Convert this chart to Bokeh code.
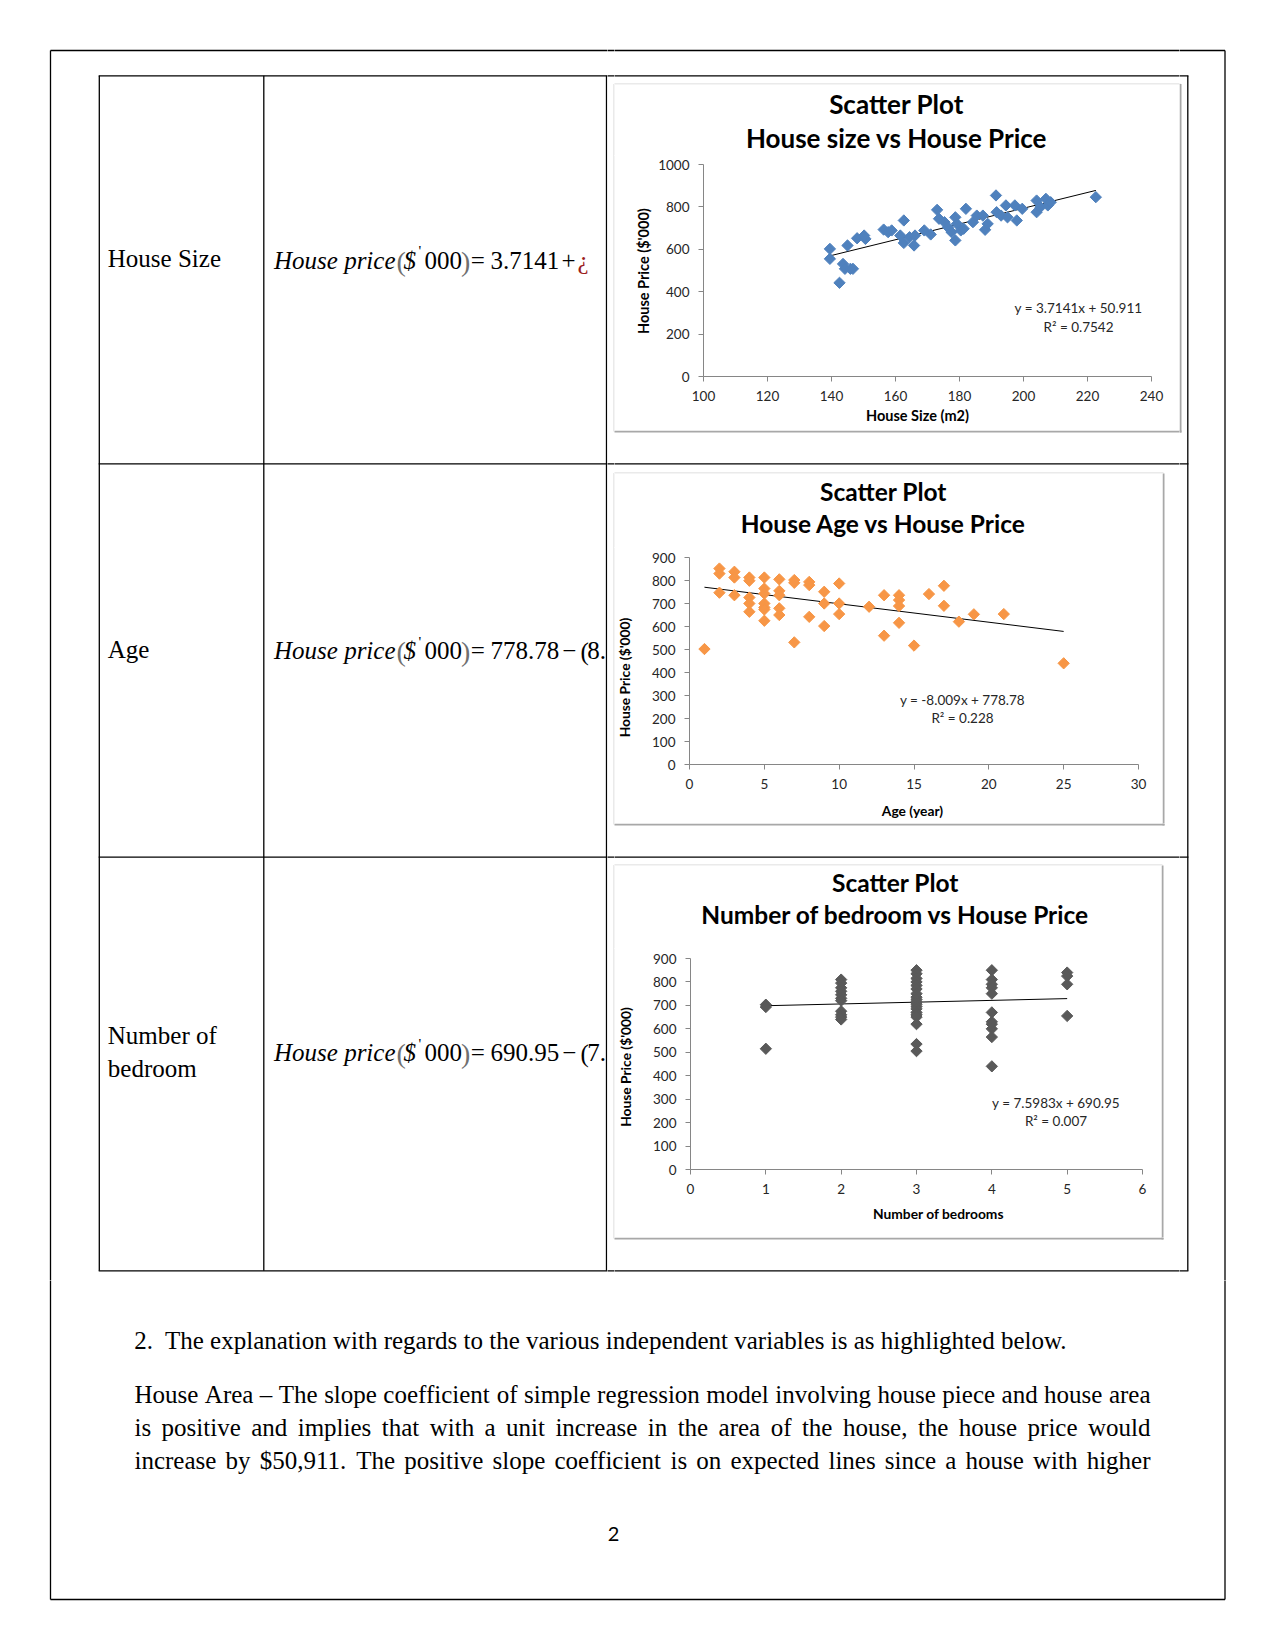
import numpy as np
from bokeh.plotting import figure
from bokeh.layouts import row, column
from bokeh.models import Range1d, FixedTicker, Label
from bokeh.core.properties import value
from bokeh.embed import file_html
from bokeh.resources import INLINE

# ------------------------------------------------------------------ data
house_size = [139.5, 139.5, 142.5, 143.6, 144.2, 145.9, 145.0, 146.7, 148.0, 150.6,
              150.2, 156.3, 157.7, 158.8, 162.6, 161.5, 162.6, 164.4, 165.8, 166.1,
              169.0, 171.0, 173.0, 173.6, 175.3, 176.4, 177.5, 178.7, 178.7, 179.2,
              180.4, 182.0, 181.3, 184.2, 185.4, 187.3, 188.0, 188.8, 191.4, 191.6,
              193.0, 194.5, 195.0, 197.3, 197.9, 199.6, 204.1, 204.1, 205.3, 207.0,
              207.6, 208.5, 222.6]
size_price = [602, 555, 442, 531, 508, 508, 618, 508, 652, 649,
              665, 693, 681, 689, 736, 665, 630, 657, 618, 665,
              689, 670, 786, 744, 728, 704, 681, 751, 642, 720,
              689, 791, 697, 728, 759, 759, 692, 720, 854, 775,
              759, 807, 751, 807, 736, 791, 830, 775, 799, 838,
              807, 822, 846]

house_age = [1, 2, 2, 2, 3, 3, 3, 4, 4, 4, 4, 4, 5, 5, 5, 5, 5, 5, 5,
             6, 6, 6, 6, 6, 7, 7, 7, 8, 8, 8, 9, 9, 9, 10, 10, 10, 12,
             13, 13, 14, 14, 14, 14, 15, 16, 17, 17, 18, 19, 21, 25]
age_price = [502, 852, 830, 747, 838, 813, 736, 813, 799, 726, 700, 664,
             813, 765, 743, 700, 683, 674, 625, 805, 755, 736, 679, 650,
             802, 790, 531, 794, 780, 642, 751, 700, 602, 787, 700, 654,
             686, 736, 560, 736, 715, 689, 616, 517, 741, 777, 690, 621,
             653, 654, 440]

bedrooms = [1, 1, 1,
            2, 2, 2, 2, 2, 2, 2, 2, 2, 2, 2,
            3, 3, 3, 3, 3, 3, 3, 3, 3, 3, 3, 3, 3, 3, 3, 3, 3, 3, 3,
            4, 4, 4, 4, 4, 4, 4, 4, 4, 4, 4,
            5, 5, 5, 5]
bedroom_price = [703, 693, 515,
                 810, 795, 775, 760, 745, 730, 720, 675, 660, 650, 640,
                 850, 835, 815, 800, 785, 770, 750, 735, 725, 715, 705, 695, 685, 670, 660, 650, 620, 535, 505,
                 850, 810, 790, 775, 750, 670, 630, 620, 600, 565, 440,
                 840, 825, 790, 655]

size_fit = [3.7141, 50.911]
age_fit = [-8.009, 778.78]
bedroom_fit = [7.5983, 690.95]
fit_texts = [["y = 3.7141x + 50.911", "R\u00b2 = 0.7542"],
             ["y = -8.009x + 778.78", "R\u00b2 = 0.228"],
             ["y = 7.5983x + 690.95", "R\u00b2 = 0.007"]]

size_xticks = [100, 120, 140, 160, 180, 200, 220, 240]
size_yticks = [0, 200, 400, 600, 800, 1000]
age_xticks = [0, 5, 10, 15, 20, 25, 30]
bed_xticks = [0, 1, 2, 3, 4, 5, 6]
price_ticks_900 = [0, 100, 200, 300, 400, 500, 600, 700, 800, 900]

chart_title_1 = "Scatter Plot"
chart_titles = ["House size vs House Price", "House Age vs House Price",
                "Number of bedroom vs House Price"]
x_titles = ["House Size (m2)", "Age (year)", "Number of bedrooms"]
y_title = "House Price ($'000)"

row_labels = [["House Size"], ["Age"], ["Number of", "bedroom"]]
eq_heads = ["3.7141", "778.78", "690.95"]
eq_tails = [["+", "\u00bf"], ["\u2212", "(", "8."], ["\u2212", "(", "7."]]

intro_num = "2."
intro_text = "The explanation with regards to the various independent variables is as highlighted below."
para_lines = [
    "House Area \u2013 The slope coefficient of simple regression model involving house piece and house area",
    "is positive and implies that with a unit increase in the area of the house, the house price would",
    "increase by $50,911. The positive slope coefficient is on expected lines since a house with higher",
]
page_number = "2"

# ------------------------------------------------------------------ helpers
SERIF = "Liberation Serif"
SANS = "Lato"
TW = {}
for ch, w in zip("abcdefghijklmnopqrstuvwxyz",
                 [444, 500, 444, 500, 444, 333, 500, 500, 278, 278, 500, 278, 778,
                  500, 500, 500, 500, 333, 389, 278, 500, 500, 722, 500, 500, 444]):
    TW[ch] = w
for ch, w in zip("ABCDEFGHIJKLMNOPQRSTUVWXYZ",
                 [722, 667, 667, 722, 611, 556, 722, 722, 333, 389, 722, 611, 889,
                  722, 722, 556, 722, 667, 556, 611, 722, 722, 944, 722, 722, 611]):
    TW[ch] = w
for ch in "0123456789$":
    TW[ch] = 500
TW.update({" ": 250, ".": 250, ",": 250, "\u2013": 500, "-": 333, "(": 333, ")": 333})


def text_width(s, px):
    return sum(TW.get(c, 500) for c in s) * px / 1000.0


TEXTS = []


def add_text(x, y, text, font=SERIF, size=25, style="normal", color="black",
             align="left", angle=0.0):
    TEXTS.append(dict(x=x, y=y, text=text, font=font, size=size, style=style,
                      color=color, align=align, angle=angle))


# left column labels (y = visual centre of the line)
label_y = [[258.0], [648.5], [1035.0, 1067.5]]
for lines, ys in zip(row_labels, label_y):
    for t, yy in zip(lines, ys):
        add_text(107.3, yy, t)

# equations
eq_y = [259.5, 650.0, 1052.0]
for i, yc in enumerate(eq_y):
    add_text(273.5, yc, "House price", style="italic")
    add_text(396.0, yc + 1, "(", size=28, color="#707070")
    add_text(403.0, yc, "$", style="italic")
    add_text(418.0, yc - 9, "'", size=15)
    add_text(424.0, yc, "000")
    add_text(460.5, yc + 1, ")", size=28, color="#707070")
    add_text(470.2, yc, "=")
    add_text(490.0, yc, eq_heads[i])
    tail = eq_tails[i]
    if i == 0:
        add_text(561.0, yc, tail[0])
        add_text(577.0, yc, tail[1], color="#9b1c1c")
    else:
        add_text(561.7, yc, tail[0])
        add_text(580.0, yc + 1, tail[1])
        add_text(586.7, yc, tail[2])

# chart titles and axis titles (Excel chart areas)
CH = [
    dict(box=(614, 84, 1179, 430), frame=(703, 1151, 164, 376), tsplit=155, ysplit=655, xsplit=407,
         title=(896, 103, 137.3), tsize=26, asize=14.5, ytitle=(643, 270.6), xtitle=(917, 414.5)),
    dict(box=(614, 473, 1162, 823), frame=(689, 1138, 557, 764), tsplit=547, ysplit=640, xsplit=795,
         title=(883, 490.7, 523), tsize=24.5, asize=13.8, ytitle=(624.4, 677), xtitle=(912, 809.5)),
    dict(box=(614, 865, 1161, 1237), frame=(690, 1142, 958, 1169), tsplit=948, ysplit=640, xsplit=1200,
         title=(895, 882, 914), tsize=24.5, asize=13.8, ytitle=(624.8, 1066.5), xtitle=(938, 1212.5)),
]
for k, c in enumerate(CH):
    cx, y1, y2 = c["title"]
    add_text(cx, y1, chart_title_1, font=SANS, size=c["tsize"], style="bold", align="center")
    add_text(cx, y2, chart_titles[k], font=SANS, size=c["tsize"], style="bold", align="center")
    add_text(c["ytitle"][0], c["ytitle"][1], y_title, font=SANS, size=c["asize"], style="bold",
             align="center", angle=np.pi / 2)
    add_text(c["xtitle"][0], c["xtitle"][1], x_titles[k], font=SANS, size=c["asize"], style="bold",
             align="center")

# text below the table
add_text(133.7, 1340.0, intro_num)
add_text(164.5, 1340.0, intro_text)
L0, L1 = 134.0, 1150.0
for k, line in enumerate(para_lines):
    words = line.split(" ")
    total = sum(text_width(w, 25) for w in words)
    gap = (L1 - L0 - total) / (len(words) - 1)
    x = L0
    for w in words:
        add_text(x, 1393.7 + 33.3 * k, w)
        x += text_width(w, 25) + gap
add_text(613.0, 1533.0, page_number, font=SANS, size=20, align="center")

# lines of the page and of the table
BLACK = [
    (50, 50, 1224.5, 50), (1224.5, 50, 1224.5, 1599), (50, 1599, 1224.5, 1599), (50, 50, 50, 1599),
    (98.2, 75.3, 1187.9, 75.3), (98.2, 463.3, 1187.9, 463.3), (98.2, 856.7, 1187.9, 856.7),
    (98.2, 1270.3, 1187.9, 1270.3),
    (98.8, 75.3, 98.8, 1270.3), (263.3, 75.3, 263.3, 1270.3), (606.0, 75.3, 606.0, 1270.3),
    (1187.3, 75.3, 1187.3, 1270.3),
]
LIGHT, DARK = [], []
for c in CH:
    (x0, y0, x1, y1) = c["box"]
    LIGHT.append((x0 - 0.5, y0 - 0.5, x1 + 1, y0 - 0.5))
    LIGHT.append((x0 - 0.5, y0 - 0.5, x0 - 0.5, y1 + 1))
    DARK.append((x0 - 0.5, y1 + 1, x1 + 2, y1 + 1))
    DARK.append((x1 + 1, y0 - 0.5, x1 + 1, y1 + 2))


def segs(p, lst, color, width):
    p.segment(x0=[s[0] for s in lst], y0=[s[1] for s in lst], x1=[s[2] for s in lst],
              y1=[s[3] for s in lst], line_color=color, line_width=width)


def deco(x0, x1, y0, y1):
    p = figure(width=x1 - x0, height=y1 - y0, x_range=Range1d(x0, x1), y_range=Range1d(y1, y0),
               x_axis_location=None, y_axis_location=None, output_backend="svg",
               toolbar_location=None, tools="", min_border=0, outline_line_color=None,
               background_fill_color="white", border_fill_color="white")
    p.grid.visible = False
    for t in TEXTS:
        if x0 <= t["x"] < x1 and y0 <= t["y"] < y1:
            p.text(x=[t["x"]], y=[t["y"]], text=[t["text"]], angle=t["angle"],
                   text_font=value(t["font"]),
                   text_font_size=value("%gpx" % t["size"]), text_font_style=t["style"],
                   text_color=t["color"], text_align=t["align"], text_baseline="alphabetic")
    segs(p, LIGHT, "#d4d4d4", 1)
    segs(p, DARK, "#a8a8a8", 2)
    segs(p, BLACK, "black", 1.3)
    return p


def chart(k, xs, ys, fit, color, xr, yr, xticks, yticks, eq_pos):
    c = CH[k]
    bx0, by0, bx1, by1 = c["box"]
    left, right, top, bottom = c["frame"]
    ts, ysl, xsl = c["tsplit"], c["ysplit"], c["xsplit"]
    p = figure(width=bx1 - ysl, height=xsl - ts, x_range=Range1d(*xr), y_range=Range1d(*yr),
               output_backend="svg", toolbar_location=None, tools="",
               min_border_left=left - ysl, min_border_right=bx1 - right,
               min_border_top=top - ts, min_border_bottom=xsl - bottom,
               outline_line_color=None, background_fill_color="white", border_fill_color="white")
    p.grid.visible = False

    def to_data(px, py):
        return (xr[0] + (px - left) / (right - left) * (xr[1] - xr[0]),
                yr[0] + (bottom - py) / (bottom - top) * (yr[1] - yr[0]))

    xmin, xmax = min(xs), max(xs)
    p.line([xmin, xmax], [fit[0] * xmin + fit[1], fit[0] * xmax + fit[1]],
           line_color="black", line_width=1)
    p.scatter(xs, ys, marker="square", size=8, angle=np.pi / 4,
              fill_color=color, line_color=color)

    for ax in (p.xaxis[0], p.yaxis[0]):
        ax.axis_line_color = "#868686"
        ax.major_tick_line_color = "#868686"
        ax.major_tick_out = 5
        ax.major_tick_in = 0
        ax.minor_tick_line_color = None
        ax.major_label_text_font = SANS
        ax.major_label_text_font_size = "13.5px"
        ax.major_label_text_color = "#262626"
    p.xaxis.ticker = FixedTicker(ticks=xticks)
    p.yaxis.ticker = FixedTicker(ticks=yticks)
    p.xaxis.major_label_standoff = 9
    p.yaxis.major_label_standoff = 9

    (ex, ey1, ey2) = eq_pos
    for txt, ty in zip(fit_texts[k], (ey1, ey2)):
        dx, dy = to_data(ex, ty)
        p.add_layout(Label(x=dx, y=dy, text=txt, text_align="center", text_baseline="middle",
                           text_font=SANS, text_font_size="13.5px", text_color="#262626"))

    block = column(
        deco(bx0, bx1, by0, ts),
        row(deco(bx0, ysl, ts, by1),
            column(row(p, spacing=0), deco(ysl, bx1, xsl, by1), spacing=0),
            spacing=0),
        spacing=0)
    return block


b1 = chart(0, house_size, size_price, size_fit, "#4F81BD", (100, 240), (0, 1000),
           size_xticks, size_yticks, (1078, 307.5, 326.5))
b2 = chart(1, house_age, age_price, age_fit, "#F79646", (0, 30), (0, 900),
           age_xticks, price_ticks_900, (962, 699.3, 717.3))
b3 = chart(2, bedrooms, bedroom_price, bedroom_fit, "#595959", (0, 6), (0, 900),
           bed_xticks, price_ticks_900, (1055.5, 1102.7, 1120))

# ------------------------------------------------------------------ layout
left_fig = deco(0, 607, 0, 1280)
strip = deco(607, 614, 0, 1280)
right_fig = deco(1179, 1270, 0, 1280)
chart_col = column(
    deco(614, 1179, 0, 84),
    b1,
    deco(614, 1179, 430, 473),
    row(b2, deco(1162, 1179, 473, 823), spacing=0),
    deco(614, 1179, 823, 865),
    row(b3, deco(1161, 1179, 865, 1237), spacing=0),
    deco(614, 1179, 1237, 1280),
    spacing=0,
)
top_row = row(left_fig, strip, chart_col, right_fig, spacing=0)
bottom_fig = deco(0, 1270, 1280, 1645)
page = column(top_row, bottom_fig, spacing=0)

open("out.html", "w").write(file_html(page, INLINE))
